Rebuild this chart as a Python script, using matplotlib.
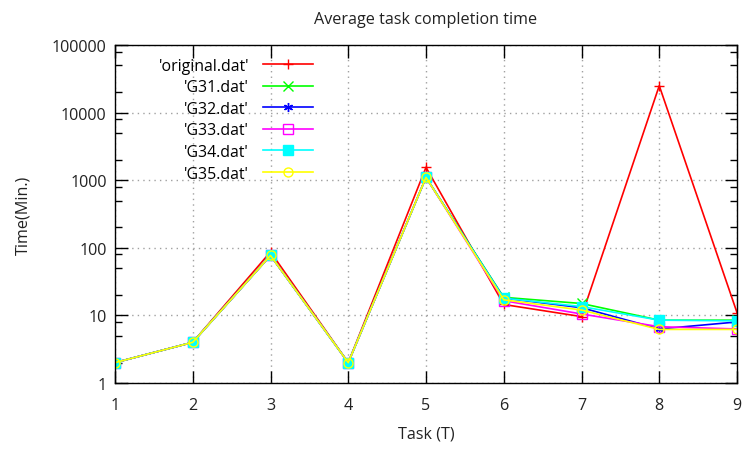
import matplotlib
matplotlib.use("Agg")
import matplotlib.pyplot as plt
from matplotlib.ticker import LogLocator, FixedLocator, NullFormatter

tasks = [1, 2, 3, 4, 5, 6, 7, 8, 9]
original = [2, 4, 87, 2, 1550, 14.5, 9.6, 25000, 11]
g31 = [2, 4, 77, 2, 1100, 18.5, 15, 8.5, 8.5]
g32 = [2, 4, 77, 2, 1100, 18, 13, 6.3, 8]
g33 = [2, 4, 77, 2, 1100, 16.5, 10.5, 6.8, 6.3]
g34 = [2, 4, 77, 2, 1100, 18, 13.5, 8.5, 8.3]
g35 = [2, 4, 77, 2, 1100, 17, 12, 6.2, 6.2]

labels = ["'original.dat'", "'G31.dat'", "'G32.dat'", "'G33.dat'", "'G34.dat'", "'G35.dat'"]
series = [original, g31, g32, g33, g34, g35]
colors = ['#ff0000', '#00ff00', '#0000ff', '#ff00ff', '#00ffff', '#ffff00']
markers = ['+', 'x', (6, 2, 0), 's', 's', 'o']
mfc = ['#ff0000', '#00ff00', '#0000ff', 'none', '#00ffff', 'none']

plt.rcParams['font.family'] = ['Open Sans', 'DejaVu Sans']
fs = 11.6

fig = plt.figure(figsize=(7.47, 4.52), dpi=100)
ax = fig.add_axes([115/747, 68/452, (737-115)/747, (384-46)/452])

for y, lab, c, m, f in zip(series, labels, colors, markers, mfc):
    ax.plot(tasks, y, color=c, lw=1.2, marker=m, ms=6.5, mfc=f, mec=c, mew=1.0, label=lab)

ax.set_yscale('log')
ax.set_ylim(1, 100000)
ax.set_xlim(1, 9)
ax.set_xticks(tasks)
ax.yaxis.set_major_locator(FixedLocator([1, 10, 100, 1000, 10000, 100000]))
ax.yaxis.set_major_formatter(matplotlib.ticker.FuncFormatter(lambda v, p: '%d' % v))
ax.yaxis.set_minor_locator(LogLocator(base=10, subs=(2.0, 5.0, 8.0)))
ax.yaxis.set_minor_formatter(NullFormatter())

ax.grid(True, which='major', color='#a0a0a0', linestyle=(0, (1, 3)), lw=1.0)
ax.tick_params(which='both', direction='in', top=True, right=True, labelsize=fs, colors='black', labelcolor='#222222')
ax.tick_params(which='major', length=9, width=1)
ax.tick_params(which='minor', length=5, width=1)
ax.tick_params(axis='x', pad=10)
ax.tick_params(axis='y', pad=6)
for s in ax.spines.values():
    s.set_linewidth(1.0)
    s.set_color('black')

ax.set_title('Average task completion time', fontsize=fs, color='#222222', pad=16)
ax.set_xlabel('Task (T)', fontsize=fs, color='#222222', labelpad=9)
ax.set_ylabel('Time(Min.)', fontsize=fs, color='#222222', labelpad=15)

leg = ax.legend(loc='upper left', bbox_to_anchor=(0.07, 0.962), frameon=False, markerfirst=False,
                fontsize=11.4, handlelength=3.15, labelspacing=0.35, handletextpad=0.9,
                borderpad=0, borderaxespad=0)

fig.savefig('out.png', dpi=100)
